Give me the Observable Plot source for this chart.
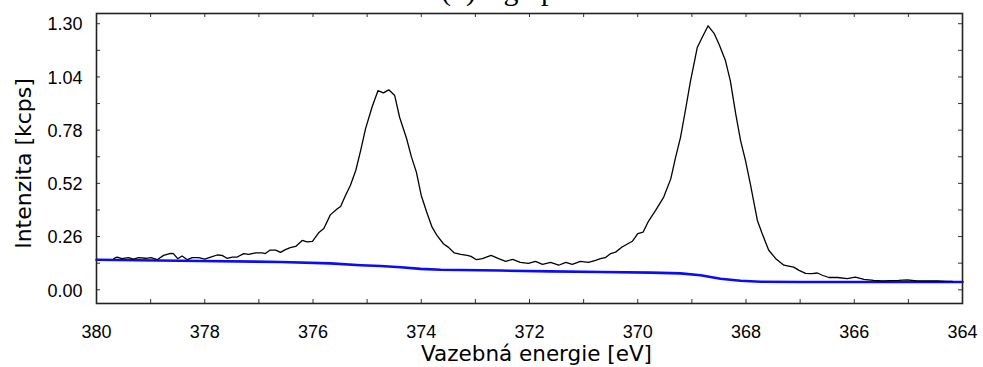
<!DOCTYPE html>
<html>
<head>
<meta charset="utf-8">
<script src="https://cdn.jsdelivr.net/npm/d3@7"></script>
<script src="https://cdn.jsdelivr.net/npm/@observablehq/plot@0.6"></script>
<style>
  html, body { margin: 0; padding: 0; background: white; }
  #wrap { position: relative; width: 983px; height: 367px; overflow: hidden; }
  #title { position: absolute; left: 441px; top: -25px; font-family: "Liberation Serif", serif; font-size: 30px; line-height: 30px; white-space: pre; z-index: 2; color: #000; }
</style>
</head>
<body>
<div id="wrap"></div>
<script>
// Measured spectrum (binding energy in eV, intensity in kcps)
const energy = [379.68,379.62,379.53,379.41,379.32,379.22,379.09,378.99,378.88,378.76,378.63,378.58,378.50,378.42,378.32,378.23,378.11,378.00,377.89,377.77,377.68,377.59,377.49,377.40,377.28,377.19,377.06,376.94,376.88,376.79,376.69,376.60,376.51,376.42,376.32,376.20,376.11,376.01,375.89,375.80,375.68,375.55,375.49,375.40,375.31,375.21,375.12,375.03,374.91,374.80,374.70,374.60,374.49,374.40,374.27,374.18,374.09,374.00,373.90,373.80,373.71,373.59,373.49,373.39,373.27,373.15,373.08,372.98,372.87,372.71,372.57,372.44,372.31,372.17,372.02,371.89,371.76,371.61,371.46,371.33,371.21,371.06,370.91,370.78,370.69,370.60,370.50,370.41,370.29,370.10,370.00,369.90,369.80,369.67,369.52,369.39,369.30,369.21,369.12,369.03,368.90,368.81,368.70,368.59,368.50,368.38,368.29,368.19,368.10,368.01,367.92,367.79,367.70,367.58,367.45,367.30,367.12,367.02,366.90,366.78,366.68,366.59,366.47,366.31,366.13,365.98,365.82,365.64,365.48,365.33,365.18,365.02,364.84,364.65,364.47,364.28,364.19];
const intensity = [0.152,0.160,0.152,0.157,0.150,0.157,0.154,0.157,0.147,0.168,0.178,0.177,0.152,0.165,0.147,0.157,0.157,0.150,0.160,0.170,0.168,0.154,0.160,0.160,0.177,0.173,0.180,0.180,0.177,0.194,0.194,0.183,0.196,0.206,0.212,0.241,0.234,0.237,0.280,0.299,0.366,0.396,0.407,0.461,0.510,0.583,0.680,0.786,0.892,0.973,0.962,0.977,0.949,0.843,0.738,0.648,0.575,0.461,0.380,0.306,0.266,0.225,0.206,0.180,0.173,0.168,0.163,0.147,0.152,0.168,0.152,0.139,0.149,0.134,0.129,0.139,0.124,0.134,0.120,0.134,0.124,0.139,0.134,0.144,0.152,0.157,0.177,0.184,0.209,0.237,0.274,0.282,0.336,0.388,0.453,0.542,0.648,0.745,0.876,1.014,1.184,1.233,1.290,1.253,1.201,1.120,1.022,0.860,0.729,0.632,0.518,0.339,0.274,0.193,0.152,0.120,0.111,0.095,0.080,0.079,0.082,0.071,0.060,0.060,0.055,0.062,0.051,0.046,0.043,0.045,0.046,0.048,0.043,0.043,0.043,0.041,0.041];

// Background (blue curve)
const bgEnergy = [380.00,378.08,376.60,375.68,375.12,374.75,374.38,374.01,373.64,372.54,371.61,370.69,369.76,369.21,368.84,368.47,368.10,367.73,366.99,364.00];
const bgIntensity = [0.147,0.141,0.136,0.129,0.120,0.116,0.110,0.102,0.098,0.094,0.090,0.087,0.084,0.080,0.071,0.054,0.044,0.039,0.038,0.038];

// Axes
const xTickLabels = [380,378,376,374,372,370,368,366,364];
const xTickMarks = [380,379,378,377,376,375,374,373,372,371,370,369,368,367,366,365,364];
const yTickLabels = [0.00,0.26,0.52,0.78,1.04,1.30];
const yTickMarks = [0.00,0.13,0.26,0.39,0.52,0.65,0.78,0.91,1.04,1.17,1.30];
const titleText = "(b) Ag 3p";
const xLabel = "Vazebná energie [eV]";
const yLabel = "Intenzita [kcps]";

const spectrum = energy.map((e, i) => ({E: e, I: intensity[i]}));
const background = bgEnergy.map((e, i) => ({E: e, I: bgIntensity[i]}));

const W = 983, H = 367, mL = 96, mR = 21, mT = 13, mB = 64;
const fw = W - mL - mR, fh = H - mT - mB;
const tick = 4;

const chart = Plot.plot({
  width: W,
  height: H,
  marginLeft: mL,
  marginRight: mR,
  marginTop: mT,
  marginBottom: mB,
  style: {background: "white", color: "#000"},
  x: {domain: [380, 364]},
  y: {domain: [-0.067, 1.350]},
  marks: [
    Plot.axisX(xTickLabels, {tickSize: 0, tickPadding: 22, fontSize: 18, fontFamily: "Liberation Sans, Arial, sans-serif", fill: "#000", tickFormat: d => d3.format("d")(d), label: null}),
    Plot.axisY(yTickLabels, {tickSize: 0, tickPadding: 14, fontSize: 18, fontFamily: "Liberation Sans, Arial, sans-serif", fill: "#000", tickFormat: d => d3.format(".2f")(d), dy: 1, label: null}),
    Plot.line(background, {x: "E", y: "I", stroke: "#0a0aff", strokeWidth: 2.6}),
    Plot.line(spectrum, {x: "E", y: "I", stroke: "#000", strokeWidth: 1.3}),
    Plot.tickX(xTickMarks, {x: d => d, insetTop: fh - tick, stroke: "#333", strokeWidth: 1}),
    Plot.tickX(xTickMarks, {x: d => d, insetBottom: fh - tick, stroke: "#333", strokeWidth: 1}),
    Plot.tickY(yTickMarks, {y: d => d, insetRight: fw - tick, stroke: "#333", strokeWidth: 1}),
    Plot.tickY(yTickMarks, {y: d => d, insetLeft: fw - tick, stroke: "#333", strokeWidth: 1}),
    Plot.frame({stroke: "#222", strokeWidth: 1.6}),
    Plot.text([yLabel], {text: d => d, frameAnchor: "left", rotate: -90, dx: -73, dy: 5, fontSize: 22, fontFamily: "DejaVu Sans, Verdana, sans-serif", fill: "#000", lineAnchor: "middle", textAnchor: "middle"}),
    Plot.text([xLabel], {text: d => d, frameAnchor: "bottom", dx: 7, dy: 51, fontSize: 21.5, fontFamily: "DejaVu Sans, Verdana, sans-serif", fill: "#000", lineAnchor: "middle", textAnchor: "middle"})
  ]
});

const wrap = document.getElementById("wrap");
wrap.appendChild(chart);
const t = document.createElement("div");
t.id = "title";
t.textContent = titleText;
wrap.appendChild(t);
</script>
</body>
</html>
